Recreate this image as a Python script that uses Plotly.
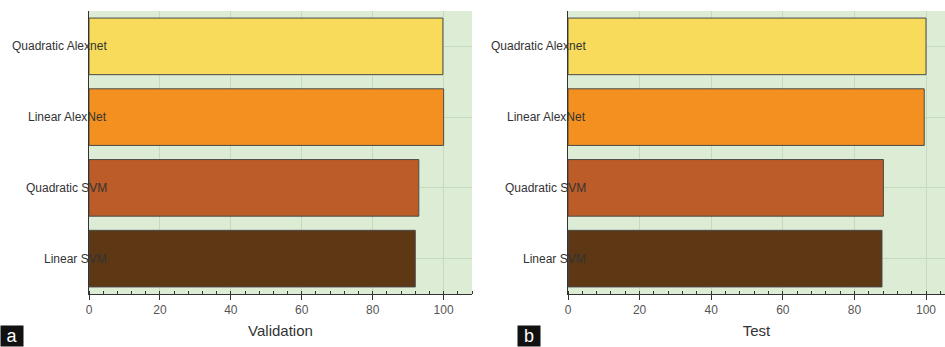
import plotly.graph_objects as go

models = ["Linear SVM", "Quadratic SVM", "Linear AlexNet", "Quadratic Alexnet"]
validation = [92.0, 93.0, 100.0, 99.8]
test = [87.7, 88.1, 99.5, 100.0]
colors = ["#5E3714", "#BC5C28", "#F39020", "#F8DB5A"]
x_ticks = [0, 20, 40, 60, 80, 100]
panel_letters = ["a", "b"]
axis_titles = ["Validation", "Test"]

W, H = 945, 347
fig = go.Figure()

for i, vals in enumerate([validation, test]):
    xa = "x" if i == 0 else "x2"
    ya = "y" if i == 0 else "y2"
    fig.add_trace(go.Bar(
        x=vals, y=models, orientation="h", xaxis=xa, yaxis=ya,
        width=0.8,
        marker=dict(color=colors, line=dict(color="#4a4a4a", width=1)),
        showlegend=False, hoverinfo="x+y",
    ))
    for m in models:
        fig.add_annotation(
            x=0, y=m, xref=xa, yref=ya, text=m, showarrow=False,
            xanchor="right", yanchor="middle", xshift=20,
            font=dict(family="Liberation Sans, Arial", size=12, color="#333333"),
        )

ydom = [1 - 294 / H, 1 - 11 / H]
common_x = dict(
    tickvals=x_ticks, ticks="outside", ticklen=5, tickcolor="#333333",
    showline=True, linecolor="#333333", linewidth=1, automargin=False,
    showgrid=True, gridcolor="#c4dcbc", gridwidth=1, zeroline=False,
    tickfont=dict(family="Liberation Sans, Arial", size=12, color="#555555"),
    minor=dict(dtick=4, ticks="inside", ticklen=3, tickcolor="#333333", showgrid=False),
    title_font=dict(family="Liberation Sans, Arial", size=15, color="#333333"),
    title_standoff=9,
)
common_y = dict(
    type="category", categoryorder="array", categoryarray=models,
    range=[-0.5, 3.5], showticklabels=False, ticks="", automargin=False,
    showline=True, linecolor="#333333", linewidth=1,
    showgrid=True, gridcolor="#c4dcbc", gridwidth=1, zeroline=False,
)

fig.update_layout(
    width=W, height=H, margin=dict(l=0, r=0, t=0, b=0),
    paper_bgcolor="white", plot_bgcolor="#dcecd5",
    xaxis=dict(domain=[89 / W, 472 / W], range=[0, 108], anchor="y",
               title_text=axis_titles[0], **common_x),
    yaxis=dict(domain=ydom, anchor="x", **common_y),
    xaxis2=dict(domain=[568 / W, 1.0], range=[0, 105.3], anchor="y2",
                title_text=axis_titles[1], **common_x),
    yaxis2=dict(domain=ydom, anchor="x2", **common_y),
    bargap=0.2,
)

for letter, xpos in zip(panel_letters, [0, 517 / W]):
    fig.add_annotation(
        x=xpos, y=0, xref="paper", yref="paper", xanchor="left", yanchor="bottom",
        text=letter, showarrow=False, bgcolor="#111111", width=22, height=20,
        borderpad=0, font=dict(family="Liberation Sans, Arial", size=18, color="white"),
    )

fig.write_html(
    "out.html",
    config={"displayModeBar": False},
    post_script="document.body.style.margin='0';document.body.style.overflow='hidden';",
)
